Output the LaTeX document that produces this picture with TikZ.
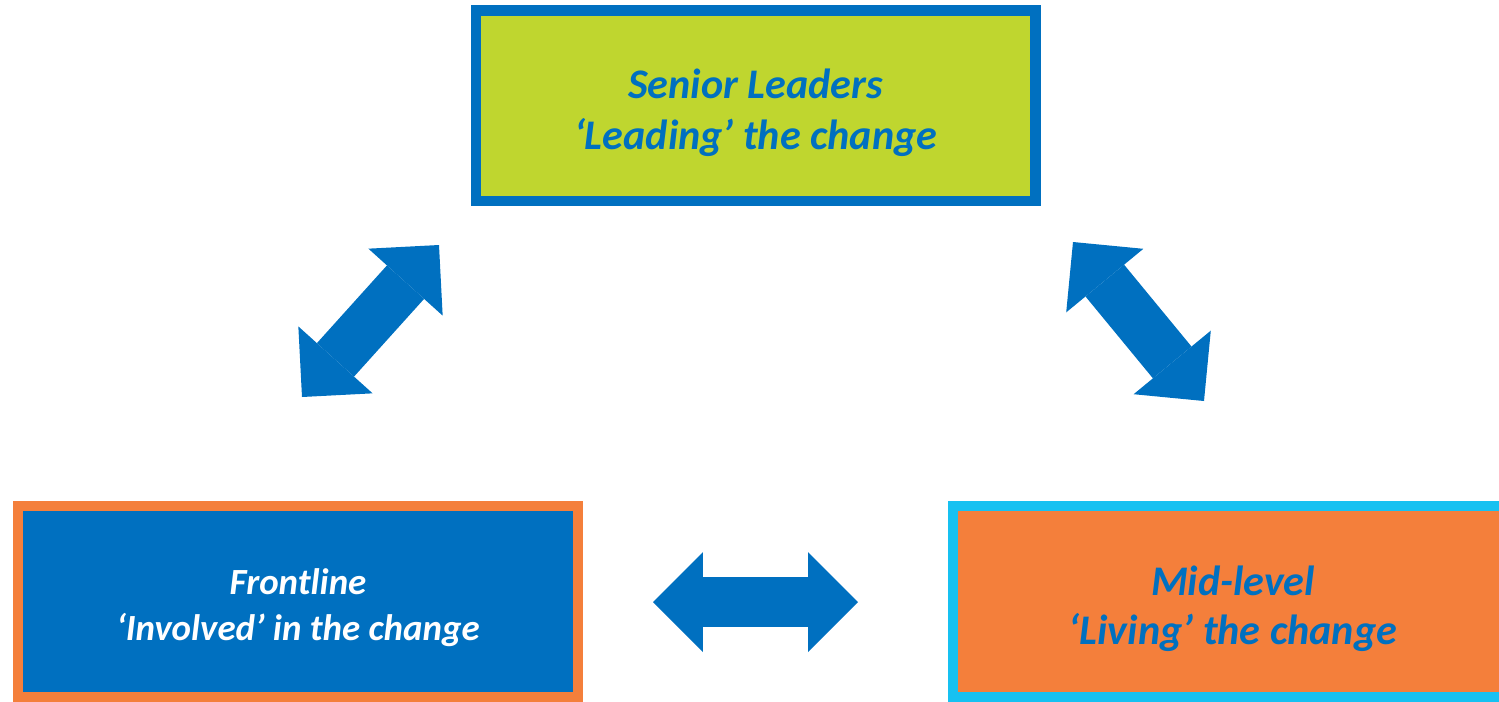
\documentclass[tikz,border=0pt]{standalone}
\usepackage{fontspec}
\setmainfont{Carlito}
\usetikzlibrary{arrows.meta}
\usepackage{xcolor}
\definecolor{ppblue}{HTML}{0070C0}
\definecolor{pplime}{HTML}{BFD62F}
\definecolor{pporange}{HTML}{F47F3B}
\definecolor{ppcyan}{HTML}{17C1F1}
\newcommand{\topstrut}{\rule{0pt}{1.05em}}
\tikzset{
  box/.style={line width=2.1mm, minimum width=11.2cm, minimum height=3.82cm, inner sep=0pt, align=center,
    font=\bfseries\itshape\fontsize{24}{29}\selectfont},
  leadbox/.style={box, draw=ppblue, fill=pplime, text=ppblue},
  frontbox/.style={box, draw=pporange, fill=ppblue, text=white, font=\bfseries\itshape\fontsize{21}{26}\selectfont},
  midbox/.style={box, draw=ppcyan, fill=pporange, text=ppblue, font=\bfseries\itshape\fontsize{24}{28}\selectfont},
  twoway/.style={line width=1cm, draw=ppblue, >={Triangle[length=1cm, width=2cm, line width=0pt]}, <->}
}

\begin{document}
\begin{tikzpicture}[x=0.02cm, y=-0.02cm]
  \useasboundingbox (0,0) rectangle (1499,701);
  \clip (0,0) rectangle (1499,701);
  \node[leadbox] (lead) at (755.75,105.75) {\topstrut Senior Leaders\\‘Leading’ the change};
  \node[frontbox] (front) at (298,601.5) {\topstrut Frontline\\‘Involved’ in the change};
  \node[midbox] (mid) at (1233,601.5) {\topstrut Mid-level\\‘Living’ the change};
  \coordinate (lf1) at (439,245);
  \coordinate (lf2) at (302,397);
  \coordinate (lm1) at (1073,242);
  \coordinate (lm2) at (1204,401);
  \coordinate (fm1) at (653,602);
  \coordinate (fm2) at (858,602);
  \draw[twoway] (lf1) -- (lf2);
  \draw[twoway] (lm1) -- (lm2);
  \draw[twoway] (fm1) -- (fm2);
\end{tikzpicture}
\end{document}
